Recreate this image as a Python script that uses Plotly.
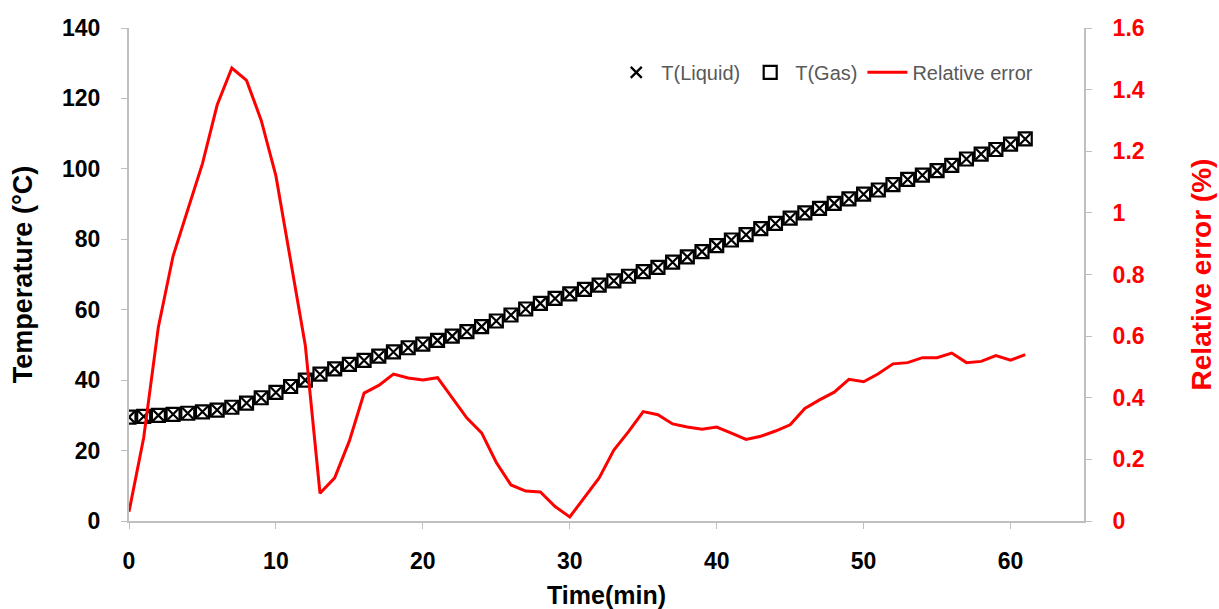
import plotly.graph_objects as go

time_min = list(range(62))
t_liquid = [29.5, 29.7, 30.0, 30.3, 30.6, 31.0, 31.5, 32.3, 33.5, 35.0,
            36.5, 38.2, 40.0, 41.7, 43.2, 44.5, 45.6, 46.8, 48.0, 49.2,
            50.2, 51.3, 52.5, 53.8, 55.2, 56.8, 58.5, 60.2, 61.8, 63.2,
            64.5, 65.8, 67.0, 68.2, 69.5, 70.8, 72.0, 73.5, 75.0, 76.5,
            78.2, 79.8, 81.3, 83.0, 84.5, 86.0, 87.5, 88.8, 90.2, 91.5,
            92.8, 94.0, 95.5, 97.0, 98.2, 99.5, 101.0, 102.8, 104.2, 105.5,
            107.0, 108.5]
t_gas = list(t_liquid)
rel_error = [0.03, 0.27, 0.63, 0.86, 1.01, 1.16, 1.35, 1.47, 1.43, 1.30,
             1.12, 0.85, 0.57, 0.09, 0.14, 0.26, 0.415, 0.44, 0.477, 0.464,
             0.458, 0.465, 0.40, 0.334, 0.286, 0.19, 0.117, 0.097, 0.094, 0.047,
             0.013, 0.075, 0.14, 0.23, 0.29, 0.355, 0.345, 0.315, 0.305, 0.298,
             0.305, 0.285, 0.265, 0.275, 0.292, 0.312, 0.365, 0.393, 0.418, 0.46,
             0.452, 0.478, 0.51, 0.514, 0.53, 0.53, 0.545, 0.514, 0.518, 0.537,
             0.522, 0.54]

x_ticks = [0, 10, 20, 30, 40, 50, 60]
y_ticks = [0, 20, 40, 60, 80, 100, 120, 140]
y2_ticks = [0, 0.2, 0.4, 0.6, 0.8, 1.0, 1.2, 1.4, 1.6]
y2_labels = ["0", "0.2", "0.4", "0.6", "0.8", "1", "1.2", "1.4", "1.6"]

FONT = "Liberation Sans"
fig = go.Figure()
fig.add_trace(go.Scatter(
    x=time_min, y=t_liquid, name="T(Liquid)", mode="markers",
    marker=dict(symbol="x-thin-open", size=11, color="black",
                line=dict(width=2.2, color="black"))))
fig.add_trace(go.Scatter(
    x=time_min, y=t_gas, name="T(Gas)", mode="markers",
    marker=dict(symbol="square-open", size=13, color="black",
                line=dict(width=2.2, color="black"))))
fig.add_trace(go.Scatter(
    x=time_min, y=rel_error, name="Relative error", mode="lines",
    line=dict(color="#ff0000", width=3), yaxis="y2"))

axis_common = dict(showgrid=False, zeroline=False, showline=True,
                   linecolor="#bfbfbf", linewidth=2, ticks="outside",
                   tickcolor="#bfbfbf", ticklen=6, tickwidth=1,
                   automargin=False)

fig.update_layout(
    width=1219, height=609,
    margin=dict(l=129, r=135, t=28, b=88, autoexpand=False),
    paper_bgcolor="white", plot_bgcolor="white",
    font=dict(family=FONT, size=19, color="black"),
    xaxis=dict(range=[0, 65], tickvals=x_ticks,
               tickfont=dict(family=FONT, size=23, color="black", weight="bold"),
               title=dict(text="<b>Time(min)</b>", standoff=14,
                          font=dict(family=FONT, size=25, color="black")),
               ticklabelstandoff=12, **axis_common),
    yaxis=dict(range=[0, 140], tickvals=y_ticks,
               tickfont=dict(family=FONT, size=23, color="black", weight="bold"),
               title=dict(text="<b>Temperature (°C)</b>", standoff=22,
                          font=dict(family=FONT, size=27, color="black")),
               ticklabelstandoff=16, **axis_common),
    yaxis2=dict(range=[0, 1.6], tickvals=y2_ticks, ticktext=y2_labels,
                overlaying="y", side="right",
                tickfont=dict(family=FONT, size=23, color="#ff0000", weight="bold"),
                title=dict(text="<b>Relative error (%)</b>", standoff=48,
                           font=dict(family=FONT, size=28, color="#ff0000")),
                ticklabelstandoff=16, **axis_common),
    legend=dict(orientation="h", x=0.505, y=0.91, xanchor="left", yanchor="middle",
                bgcolor="rgba(0,0,0,0)",
                font=dict(family=FONT, size=20, color="#595959"),
                itemwidth=40),
    showlegend=True,
)

fig.write_html("out.html")
